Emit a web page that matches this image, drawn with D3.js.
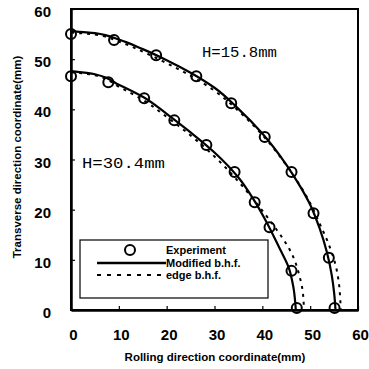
<!DOCTYPE html>
<html>
<head>
<meta charset="utf-8">
<script src="https://cdn.jsdelivr.net/npm/d3@7"></script>
<style>
  body { margin: 0; background: #fff; }
  svg { display: block; }
</style>
</head>
<body>
<svg id="chart"></svg>
<script>
const WIDTH = 369;
const HEIGHT = 369;

// tick values
const xTicks = [0, 10, 20, 30, 40, 50, 60];
const yTicks = [0, 10, 20, 30, 40, 50, 60];

// experiment points, H=15.8mm
const expOuter = [[0, 55], [9, 53.8], [17.8, 50.8], [26.2, 46.6], [33.5, 41.2], [40.5, 34.5],
  [46.1, 27.5], [50.7, 19.3], [53.9, 10.4], [55.1, 0.4]];
// experiment points, H=30.4mm
const expInner = [[0, 46.6], [7.8, 45.4], [15.3, 42.2], [21.6, 37.8], [28.3, 32.9], [34.2, 27.5],
  [38.4, 21.5], [41.5, 16.5], [46.1, 7.8], [47.2, 0.4]];

// modified b.h.f. (solid)
const modOuter = [[0, 55.6], [5, 55.2], [10, 53.9], [15, 52], [20, 49.8], [25, 47.3], [30, 44.3],
  [35, 40.1], [40, 35.2], [45, 29], [48, 24.5], [50, 21], [52, 16.2], [53.5, 11.5], [54.5, 7],
  [55, 3.5], [55.3, 0]];
const modInner = [[0, 47.6], [5, 47], [10, 44.9], [15, 42.5], [20, 39.1], [25, 35.4], [30, 31.4],
  [35, 26.4], [38, 22.3], [41, 17.3], [43.5, 12.5], [45.5, 8.5], [46.5, 4.5], [47, 0]];

// edge b.h.f. (dashed)
const edgeOuter = [[0, 55.3], [5, 54.9], [10, 53.5], [15, 51.5], [20, 49.2], [25, 46.7], [30, 43.7],
  [35, 39.7], [40, 34.9], [45, 28.9], [50, 21.3], [52, 17.2], [54, 12.8], [55.3, 9], [56, 5.4],
  [56.3, 2], [56.4, 0]];
const edgeInner = [[0, 47.4], [5, 46.8], [10, 44.5], [15, 41.9], [20, 38.5], [25, 34.8], [30, 30.6],
  [35, 25.6], [40, 19.8], [43, 16], [45, 13.2], [46.5, 10.5], [47.7, 7], [48.4, 4], [48.7, 0]];

const legendLabels = ['Experiment', 'Modified b.h.f.', 'edge b.h.f.'];

const svg = d3.select('#chart')
    .attr('width', WIDTH)
    .attr('height', HEIGHT);

const xScale = d3.scaleLinear().domain([0, 60]).range([71, 358]);
const yScale = d3.scaleLinear().domain([0, 60]).range([310, 9]);

// frame (top and right)
svg.append('rect')
    .attr('x', xScale(0)).attr('y', yScale(60))
    .attr('width', xScale(60) - xScale(0))
    .attr('height', yScale(0) - yScale(60))
    .attr('fill', 'none').attr('stroke', '#000').attr('stroke-width', 2);

const tickFont = '"Liberation Sans", Arial, sans-serif';

// left axis, ticks point inward
const leftAxis = d3.axisLeft(yScale).tickValues(yTicks).tickSizeInner(-4).tickSizeOuter(0).tickPadding(20);
const gy = svg.append('g').attr('transform', 'translate(' + xScale(0) + ',0)').call(leftAxis);
gy.select('.domain').attr('stroke-width', 2.5);
gy.selectAll('.tick line').attr('stroke-width', 1.2);
gy.selectAll('.tick text')
    .attr('font-family', tickFont).attr('font-weight', 'bold').attr('font-size', 15)
    .attr('dy', '0.5em');

// bottom axis
const bottomAxis = d3.axisBottom(xScale).tickValues(xTicks).tickSizeInner(-4).tickSizeOuter(0).tickPadding(19);
const gx = svg.append('g').attr('transform', 'translate(0,' + yScale(0) + ')').call(bottomAxis);
gx.select('.domain').attr('stroke-width', 2.5);
gx.selectAll('.tick line').attr('stroke-width', 1.2);
gx.selectAll('.tick text')
    .attr('font-family', tickFont).attr('font-weight', 'bold').attr('font-size', 15)
    .attr('dx', 2);

// axis titles
svg.append('text')
    .attr('x', 215).attr('y', 361)
    .attr('text-anchor', 'middle')
    .attr('font-family', tickFont).attr('font-weight', 'bold').attr('font-size', 11.5)
    .text('Rolling direction coordinate(mm)');

svg.append('text')
    .attr('transform', 'translate(21,157) rotate(-90)')
    .attr('text-anchor', 'middle')
    .attr('font-family', tickFont).attr('font-weight', 'bold').attr('font-size', 11.5)
    .text('Transverse direction coordinate(mm)');

// curves
const line = d3.line()
    .x(function(d) { return xScale(d[0]); })
    .y(function(d) { return yScale(d[1]); })
    .curve(d3.curveMonotoneY);

[edgeOuter, edgeInner].forEach(function(data) {
    svg.append('path').datum(data)
        .attr('d', line)
        .attr('fill', 'none').attr('stroke', '#000')
        .attr('stroke-width', 2).attr('stroke-dasharray', '3,5');
});

[modOuter, modInner].forEach(function(data) {
    svg.append('path').datum(data)
        .attr('d', line)
        .attr('fill', 'none').attr('stroke', '#000').attr('stroke-width', 2.2);
});

// experiment circles
svg.selectAll('circle.exp')
    .data(expOuter.concat(expInner))
    .enter()
    .append('circle')
    .attr('class', 'exp')
    .attr('cx', function(d) { return xScale(d[0]); })
    .attr('cy', function(d) { return yScale(d[1]); })
    .attr('r', 5)
    .attr('fill', 'none').attr('stroke', '#000').attr('stroke-width', 2);

// H annotations
const annFont = '"Liberation Mono", "DejaVu Sans Mono", monospace';
svg.append('text')
    .attr('x', 202).attr('y', 57)
    .attr('font-family', annFont).attr('font-size', 14)
    .attr('textLength', 75).attr('lengthAdjust', 'spacingAndGlyphs')
    .text('H=15.8mm');
svg.append('text')
    .attr('x', 82).attr('y', 168)
    .attr('font-family', annFont).attr('font-size', 14)
    .attr('textLength', 83).attr('lengthAdjust', 'spacingAndGlyphs')
    .text('H=30.4mm');

// legend
const legend = svg.append('g');
legend.append('rect')
    .attr('x', 80).attr('y', 240).attr('width', 188).attr('height', 58)
    .attr('fill', '#fff').attr('stroke', '#000').attr('stroke-width', 1.2);
legend.append('circle')
    .attr('cx', 130).attr('cy', 250).attr('r', 5)
    .attr('fill', 'none').attr('stroke', '#000').attr('stroke-width', 2);
legend.append('line')
    .attr('x1', 97).attr('x2', 166).attr('y1', 263).attr('y2', 263)
    .attr('stroke', '#000').attr('stroke-width', 2.5);
legend.append('line')
    .attr('x1', 97).attr('x2', 166).attr('y1', 275).attr('y2', 275)
    .attr('stroke', '#000').attr('stroke-width', 2).attr('stroke-dasharray', '4,6');
legend.selectAll('text')
    .data(legendLabels)
    .enter()
    .append('text')
    .attr('x', 166)
    .attr('y', function(d, i) { return 254 + i * 12.5; })
    .attr('font-family', tickFont).attr('font-weight', 'bold').attr('font-size', 11)
    .text(function(d) { return d; });
</script>
</body>
</html>
